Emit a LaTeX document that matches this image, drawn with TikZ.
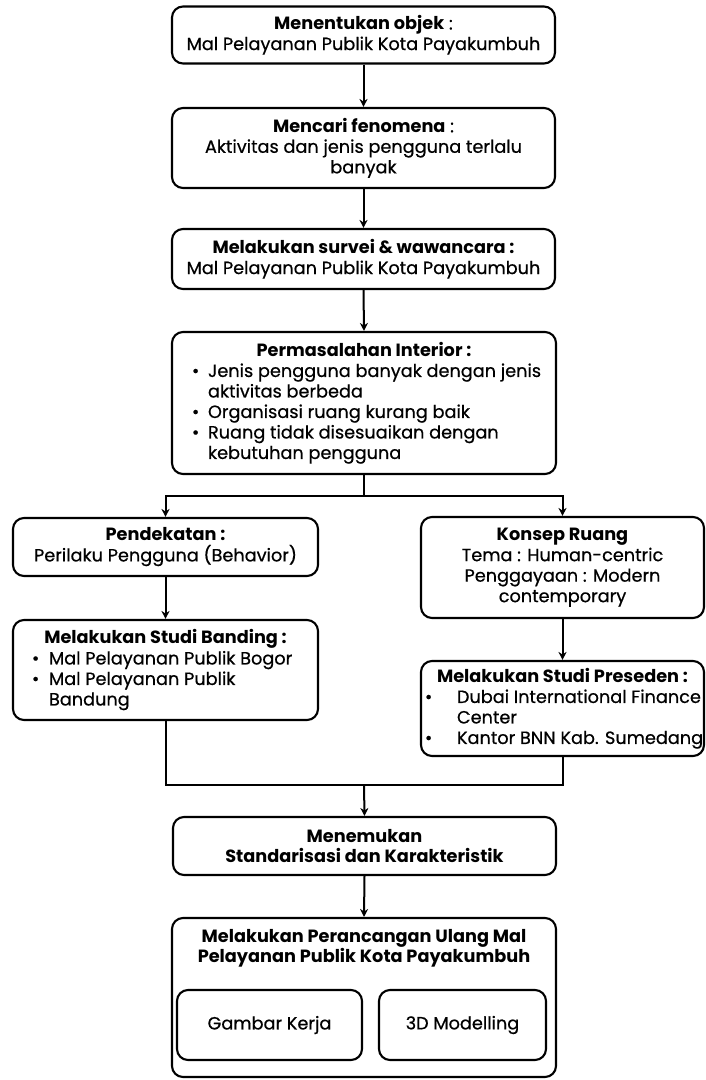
\documentclass[tikz,border=0pt]{standalone}
\usepackage{fontspec}
\setmainfont{Poppins}[UprightFeatures={FakeBold=0.6}]
\usetikzlibrary{arrows.meta}
% bullet item: #1 = bullet offset from box edge, text starts at 36pt
\newcommand\bulat[1]{\hspace*{#1}\makebox[\dimexpr36pt-#1\relax][l]{\textbullet}}
\newcommand\ind{\hspace*{36pt}}
\begin{document}
\begin{tikzpicture}[x=1pt,y=-1pt,
  box/.style={draw=black, line width=2.1pt, rounded corners=11pt, fill=white, inner sep=0pt, font=\fontsize{17.7}{20.5}\selectfont, align=center},
  conn/.style={line width=2pt, draw=black},
  arr/.style={conn, -{Stealth[length=8pt,width=8pt]}}]
\useasboundingbox (0,0) rectangle (705,1080);

\node[box, minimum width=383pt, minimum height=57pt] (b1) at (363.5,35)
  {\textbf{Menentukan objek} :\\Mal Pelayanan Publik Kota Payakumbuh};
\node[box, minimum width=383pt, minimum height=80pt] (b2) at (363.5,148)
  {\textbf{Mencari fenomena} :\\Aktivitas dan jenis pengguna terlalu\\banyak};
\node[box, minimum width=383pt, minimum height=60pt] (b3) at (363.5,259)
  {\textbf{Melakukan survei \& wawancara :}\\Mal Pelayanan Publik Kota Payakumbuh};
\node[box, minimum width=384pt, minimum height=142pt] (b4) at (364,403)
  {\parbox{384pt}{\centering\textbf{Permasalahan Interior :}\par\raggedright
   \bulat{20pt}Jenis pengguna banyak dengan jenis\\
   \ind aktivitas berbeda\\
   \bulat{20pt}Organisasi ruang kurang baik\\
   \bulat{20pt}Ruang tidak disesuaikan dengan\\
   \ind kebutuhan pengguna}};

\node[box, minimum width=305pt, minimum height=58pt] (b5) at (165.5,547)
  {\textbf{Pendekatan :}\\Perilaku Pengguna (Behavior)};
\node[box, minimum width=283pt, minimum height=101pt] (b6) at (562.5,567.5)
  {\textbf{Konsep Ruang}\\Tema : Human-centric\\Penggayaan : Modern\\contemporary};
\node[box, minimum width=305pt, minimum height=100pt] (b7) at (165.5,670)
  {\parbox{305pt}{\centering\textbf{Melakukan Studi Banding :}\par\raggedright
   \bulat{19pt}Mal Pelayanan Publik Bogor\\
   \bulat{19pt}Mal Pelayanan Publik\\
   \ind Bandung}};
\node[box, minimum width=283pt, minimum height=95pt] (b8) at (562.5,708.5)
  {\parbox{283pt}{\centering\textbf{Melakukan Studi Preseden :}\par\raggedright
   \bulat{4pt}Dubai International Finance\\
   \ind Center\\
   \bulat{4pt}Kantor BNN Kab. Sumedang}};

\node[box, minimum width=383pt, minimum height=58pt] (b9) at (364.5,846)
  {\textbf{Menemukan}\\\textbf{Standarisasi dan Karakteristik}};
\node[box, minimum width=384pt, minimum height=159pt] (b10) at (364,997.5) {};
\node[font=\fontsize{17.7}{20.5}\selectfont\bfseries, align=center, anchor=north, inner sep=0pt] (t10) at (364,929)
  {Melakukan Perancangan Ulang Mal\\Pelayanan Publik Kota Payakumbuh};
\node[box, minimum width=185pt, minimum height=70pt] (b11) at (269.5,1025) {Gambar Kerja};
\node[box, minimum width=167pt, minimum height=70pt] (b12) at (462.5,1025) {3D Modelling};

\draw[arr] (b1.south) -- (b2.north);
\draw[arr] (b2.south) -- (b3.north);
\draw[arr] (b3.south) -- (b4.north);
\coordinate (j1) at (364,496);
\draw[arr] (b4.south) -- (j1) -| (b5.north);
\draw[arr] (j1) -| (b6.north);
\draw[arr] (b5.south) -- (b7.north);
\draw[arr] (b6.south) -- (b8.north);
\coordinate (j2) at (364,785);
\draw[conn] (b7.south) |- (j2) -| (b8.south);
\draw[arr] (j2) -- (b9.north);
\draw[arr] (b9.south) -- (b10.north);
\end{tikzpicture}
\end{document}
